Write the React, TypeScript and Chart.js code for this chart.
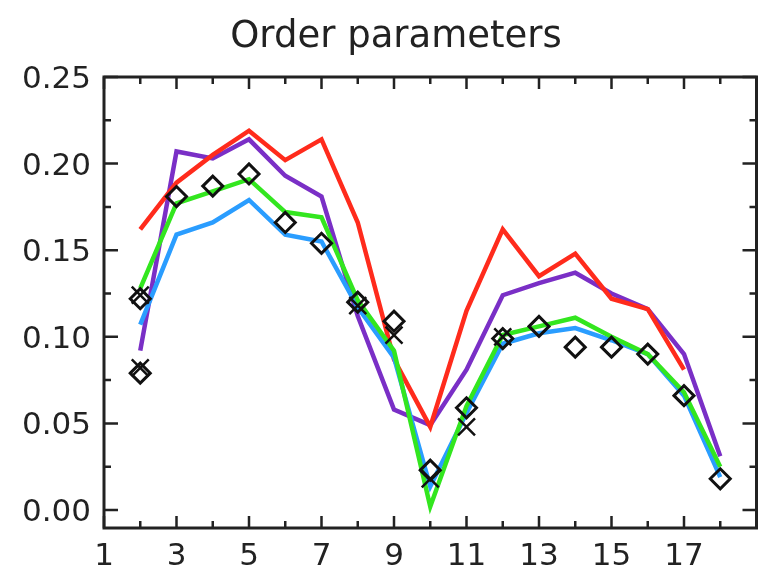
import React, { useEffect, useRef } from "react";
import { Chart, registerables } from "chart.js";

Chart.register(...registerables);

const titleText = "Order parameters";

const lineX = [2, 3, 4, 5, 6, 7, 8, 9, 10, 11, 12, 13, 14, 15, 16, 17, 18];
const redValues = [0.162, 0.189, 0.205, 0.219, 0.202, 0.214, 0.166, 0.087, 0.048, 0.115, 0.162, 0.135, 0.148, 0.122, 0.116, 0.081];
const purpleValues = [0.092, 0.207, 0.203, 0.214, 0.193, 0.181, 0.112, 0.058, 0.049, 0.081, 0.124, 0.131, 0.137, 0.125, 0.116, 0.090, 0.031];
const blueValues = [0.107, 0.159, 0.166, 0.179, 0.159, 0.155, 0.117, 0.088, 0.0135, 0.056, 0.096, 0.102, 0.105, 0.098, 0.090, 0.066, 0.019];
const greenValues = [0.128, 0.177, 0.184, 0.191, 0.172, 0.169, 0.121, 0.092, 0.002, 0.060, 0.101, 0.106, 0.111, 0.100, 0.090, 0.068, 0.025];

const diamondX = [2, 2, 3, 4, 5, 6, 7, 8, 9, 10, 11, 12, 13, 14, 15, 16, 17, 18];
const diamondY = [0.122, 0.079, 0.181, 0.187, 0.194, 0.166, 0.154, 0.120, 0.109, 0.023, 0.059, 0.099, 0.106, 0.094, 0.094, 0.090, 0.066, 0.018];

const crossX = [2, 2, 8, 9, 10, 11, 12];
const crossY = [0.124, 0.082, 0.118, 0.101, 0.018, 0.048, 0.100];

const xTickValues = [1, 2, 3, 4, 5, 6, 7, 8, 9, 10, 11, 12, 13, 14, 15, 16, 17, 18, 19];
const xLabelValues = [1, 3, 5, 7, 9, 11, 13, 15, 17];
const yTickValues = [0, 0.025, 0.05, 0.075, 0.1, 0.125, 0.15, 0.175, 0.2, 0.225, 0.25];
const yLabelValues = [0, 0.05, 0.1, 0.15, 0.2, 0.25];

const X_MIN = 1;
const X_MAX = 19;
const Y_MIN = -0.0104;
const Y_MAX = 0.25;

const INK = "#222222";

const toPoints = (xs: number[], ys: number[]) => ys.map((y, i) => ({ x: xs[i], y }));

const isLabelX = (v: number) => xLabelValues.some((l) => Math.abs(l - v) < 1e-9);
const isLabelY = (v: number) => yLabelValues.some((l) => Math.abs(l - v) < 1e-9);

const framePlugin = {
  id: "idlFrame",
  afterDatasetsDraw(chart: any) {
    const { ctx, chartArea, scales } = chart;
    const { left, right, top, bottom } = chartArea;
    ctx.save();
    ctx.strokeStyle = INK;
    ctx.lineWidth = 2.5;
    ctx.lineCap = "butt";
    xTickValues.forEach((v) => {
      const px = scales.x.getPixelForValue(v);
      const len = isLabelX(v) ? 12 : 7;
      ctx.beginPath();
      ctx.moveTo(px, bottom);
      ctx.lineTo(px, bottom - len);
      ctx.moveTo(px, top);
      ctx.lineTo(px, top + len);
      ctx.stroke();
    });
    yTickValues.forEach((v) => {
      const py = scales.y.getPixelForValue(v);
      const len = isLabelY(v) ? 14 : 7;
      ctx.beginPath();
      ctx.moveTo(left, py);
      ctx.lineTo(left + len, py);
      ctx.moveTo(right, py);
      ctx.lineTo(right - len, py);
      ctx.stroke();
    });
    ctx.lineWidth = 3;
    ctx.strokeRect(left, top, right - left, bottom - top);
    ctx.fillStyle = INK;
    ctx.font = "37px 'DejaVu Sans'";
    ctx.textAlign = "center";
    ctx.textBaseline = "alphabetic";
    ctx.fillText(titleText, 396, 47);
    ctx.restore();
  },
};

export default function App() {
  const canvasRef = useRef<HTMLCanvasElement | null>(null);

  useEffect(() => {
    if (!canvasRef.current) return;
    const lineDs = (label: string, ys: number[], color: string, order: number) => ({
      type: "line" as const,
      label,
      data: toPoints(lineX, ys),
      borderColor: color,
      backgroundColor: color,
      borderWidth: 4.5,
      pointRadius: 0,
      tension: 0,
      fill: false,
      order,
    });
    const chart = new Chart(canvasRef.current, {
      type: "line",
      data: {
        datasets: [
          {
            type: "scatter" as const,
            label: "diamonds",
            data: toPoints(diamondX, diamondY),
            pointStyle: "rectRot",
            pointRadius: 10,
            pointBorderWidth: 3,
            borderColor: "#111111",
            pointBorderColor: "#111111",
            backgroundColor: "rgba(0,0,0,0)",
            pointBackgroundColor: "rgba(0,0,0,0)",
            showLine: false,
            order: 0,
          } as any,
          {
            type: "scatter" as const,
            label: "crosses",
            data: toPoints(crossX, crossY),
            pointStyle: "crossRot",
            pointRadius: 12,
            pointBorderWidth: 2.5,
            borderColor: "#111111",
            pointBorderColor: "#111111",
            showLine: false,
            order: 1,
          } as any,
          lineDs("green", greenValues, "#33e61f", 2),
          lineDs("blue", blueValues, "#2a9dff", 3),
          lineDs("red", redValues, "#ff2b1c", 4),
          lineDs("purple", purpleValues, "#7a2fc6", 5),
        ],
      },
      options: {
        responsive: false,
        animation: false,
        layout: { padding: { top: 77, right: 5, left: 0, bottom: 0 } },
        plugins: {
          legend: { display: false },
          title: { display: false },
          tooltip: { enabled: false },
        },
        scales: {
          x: {
            type: "linear",
            min: X_MIN,
            max: X_MAX,
            grid: { display: false, drawTicks: false },
            border: { display: false },
            afterFit: (s: any) => {
              s.height = 43;
            },
            afterBuildTicks: (s: any) => {
              s.ticks = xLabelValues.map((v) => ({ value: v }));
            },
            ticks: {
              padding: 10,
              color: INK,
              font: { family: "'DejaVu Sans'", size: 31 },
              maxRotation: 0,
              autoSkip: false,
              callback: (v: any) => String(v),
            },
          },
          y: {
            type: "linear",
            min: Y_MIN,
            max: Y_MAX,
            grid: { display: false, drawTicks: false },
            border: { display: false },
            afterFit: (s: any) => {
              s.width = 104;
            },
            afterBuildTicks: (s: any) => {
              s.ticks = yLabelValues.map((v) => ({ value: v }));
            },
            ticks: {
              padding: 13,
              labelOffset: 3,
              color: INK,
              font: { family: "'DejaVu Sans'", size: 31 },
              autoSkip: false,
              callback: (v: any) => Number(v).toFixed(2),
            },
          },
        },
      },
      plugins: [framePlugin],
    });
    return () => chart.destroy();
  }, []);

  return (
    <div style={{ position: "absolute", left: 0, top: 0, width: 771, height: 571, background: "#ffffff" }}>
      <canvas ref={canvasRef} width={771} height={571} style={{ display: "block" }} />
    </div>
  );
}
